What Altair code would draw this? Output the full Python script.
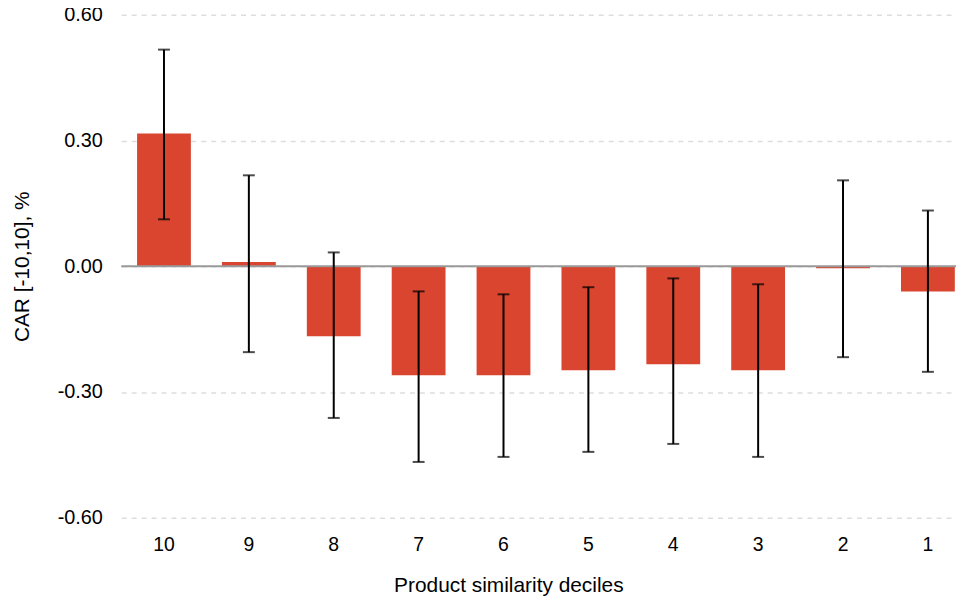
import altair as alt
import pandas as pd

deciles = ["10", "9", "8", "7", "6", "5", "4", "3", "2", "1"]
car = [0.317, 0.010, -0.167, -0.260, -0.260, -0.248, -0.234, -0.248, -0.005, -0.060]
ci_low = [0.112, -0.205, -0.362, -0.467, -0.455, -0.443, -0.424, -0.455, -0.217, -0.252]
ci_high = [0.517, 0.217, 0.033, -0.060, -0.067, -0.050, -0.029, -0.043, 0.205, 0.133]
y_ticks = [-0.6, -0.3, 0.0, 0.3, 0.6]

df = pd.DataFrame({"decile": deciles, "car": car, "lo": ci_low, "hi": ci_high})

FONT = "Liberation Sans"

xenc = alt.X(
    "decile:N",
    sort=deciles,
    scale=alt.Scale(paddingInner=0.366, paddingOuter=0.1, align=0.93),
    axis=alt.Axis(
        title="Product similarity deciles",
        labelAngle=0,
        domain=False,
        ticks=False,
        labelPadding=18,
        labelFontSize=19.5,
        titleFontSize=21,
        labelFont=FONT,
        titleFont=FONT,
        labelColor="#000000",
        titleColor="#000000",
        titleFontWeight="normal",
        titleX=389.5,
        titleY=74,
        titleBaseline="alphabetic",
        titleAlign="center",
        grid=False,
    ),
)

yscale = alt.Scale(domain=[-0.6, 0.6], nice=False, zero=False)

yaxis = alt.Axis(
    title="CAR [-10,10], %",
    values=y_ticks,
    labelExpr="(datum.value < 0 ? '-' : '') + format(abs(datum.value), '.2f')",
    domain=False,
    ticks=False,
    labelPadding=19,
    titlePadding=25,
    labelFontSize=20,
    titleFontSize=21,
    labelFont=FONT,
    titleFont=FONT,
    labelColor="#000000",
    titleColor="#000000",
    titleFontWeight="normal",
    grid=True,
    gridColor="#dddddd",
    gridDash=[5, 5],
    gridWidth=1.5,
)

base = alt.Chart(df)

bars = base.mark_bar(color="#D9452F").encode(
    x=xenc,
    y=alt.Y("car:Q", scale=yscale, axis=yaxis),
)

zero = alt.Chart(pd.DataFrame({"z": [0.0]})).mark_rule(color="#999999", strokeWidth=2).encode(
    y=alt.Y("z:Q", scale=yscale)
)

err = base.mark_rule(color="#000000", strokeWidth=2).encode(
    x=alt.X("decile:N", sort=deciles),
    y=alt.Y("lo:Q", scale=yscale),
    y2="hi:Q",
)

cap_lo = base.mark_tick(color="#000000", thickness=2, size=12, orient="horizontal").encode(
    x=alt.X("decile:N", sort=deciles),
    y=alt.Y("lo:Q", scale=yscale),
)
cap_hi = base.mark_tick(color="#000000", thickness=2, size=12, orient="horizontal").encode(
    x=alt.X("decile:N", sort=deciles),
    y=alt.Y("hi:Q", scale=yscale),
)

chart = (
    alt.layer(bars, zero, err, cap_lo, cap_hi)
    .properties(
        width=840,
        height=506,
        autosize=alt.AutoSizeParams(type="none"),
        padding={"left": 114, "top": 5, "right": 0, "bottom": 84},
    )
    .configure_view(stroke=None)
)

chart.save("out.html", embed_options={"renderer": "svg", "actions": False})
